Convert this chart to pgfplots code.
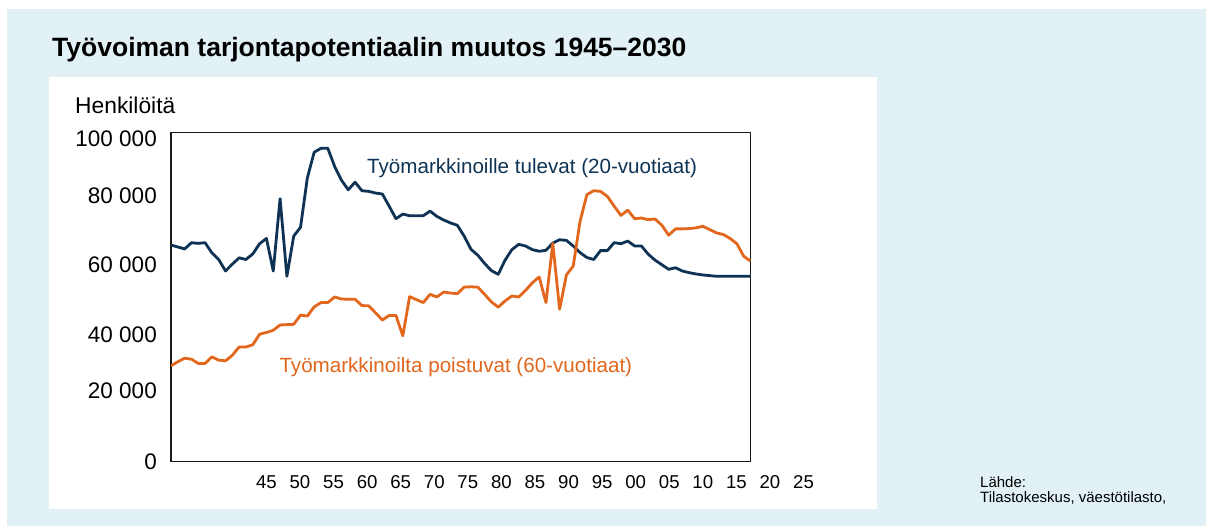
\documentclass[border=0pt]{standalone}
\usepackage{pgfplots}
\usepackage{pgfplotstable}
\pgfplotsset{compat=1.18}
\usepackage{fontspec}
\setmainfont{Liberation Sans}
\definecolor{bgblue}{HTML}{E1F1F6}
\definecolor{navy}{HTML}{0E3354}
\definecolor{orng}{HTML}{E2661C}

\pgfplotstableread{
year val
1945 65800
1946 65200
1947 64600
1948 66500
1949 66300
1950 66500
1951 63400
1952 61400
1953 57900
1954 60000
1955 61900
1956 61400
1957 63100
1958 66200
1959 67800
1960 57900
1961 79900
1962 56300
1963 68500
1964 71200
1965 86200
1966 94000
1967 95200
1968 95200
1969 89700
1970 85500
1971 82600
1972 84900
1973 82300
1974 82100
1975 81600
1976 81300
1977 77600
1978 73800
1979 75200
1980 74700
1981 74700
1982 74700
1983 76100
1984 74500
1985 73400
1986 72500
1987 71800
1988 68500
1989 64500
1990 62700
1991 60200
1992 58000
1993 56900
1994 61200
1995 64400
1996 66000
1997 65500
1998 64400
1999 63900
2000 64200
2001 66400
2002 67400
2003 67200
2004 65500
2005 63500
2006 62000
2007 61400
2008 64100
2009 64100
2010 66500
2011 66200
2012 67000
2013 65500
2014 65500
2015 63000
2016 61200
2017 59800
2018 58400
2019 58900
2020 57900
2021 57400
2022 57000
2023 56700
2024 56500
2025 56300
2026 56300
2027 56300
2028 56300
2029 56300
2030 56300
}\tulevat

\pgfplotstableread{
year val
1945 29100
1946 30300
1947 31400
1948 31100
1949 29800
1950 29800
1951 31800
1952 30800
1953 30600
1954 32300
1955 34800
1956 34800
1957 35500
1958 38700
1959 39200
1960 39900
1961 41500
1962 41600
1963 41700
1964 44500
1965 44200
1966 47000
1967 48300
1968 48300
1969 50000
1970 49400
1971 49300
1972 49300
1973 47400
1974 47300
1975 45200
1976 43000
1977 44400
1978 44400
1979 38200
1980 50100
1981 49200
1982 48300
1983 50800
1984 50000
1985 51500
1986 51200
1987 51000
1988 53000
1989 53100
1990 53000
1991 50800
1992 48500
1993 46900
1994 48800
1995 50300
1996 50000
1997 52000
1998 54300
1999 56100
2000 48300
2001 66300
2002 46300
2003 56700
2004 59400
2005 73000
2006 81100
2007 82300
2008 82100
2009 80600
2010 77600
2011 74800
2012 76400
2013 73800
2014 74000
2015 73500
2016 73700
2017 71800
2018 68800
2019 70700
2020 70700
2021 70800
2022 71000
2023 71500
2024 70500
2025 69500
2026 69000
2027 67800
2028 66200
2029 62400
2030 60900
}\poistuvat

\begin{document}
\begin{tikzpicture}
\path (0pt,0pt) rectangle (1206pt,526pt);
\fill[bgblue] (7pt,0pt) rectangle (1206pt,517pt);
\fill[white] (49pt,17pt) rectangle (877pt,449pt);
\node[anchor=base west, inner sep=0pt, font=\fontsize{26.5}{30}\selectfont\bfseries] at (52pt,469.5pt) {Työvoiman tarjontapotentiaalin muutos 1945–2030};
\node[anchor=base west, inner sep=0pt, font=\fontsize{22.8}{27}\selectfont] at (75pt,412pt) {Henkilöitä};
\node[anchor=base west, inner sep=0pt, font=\fontsize{15}{17}\selectfont] at (980pt,38.3pt) {Lähde:};
\node[anchor=base west, inner sep=0pt, font=\fontsize{15}{17}\selectfont] at (980pt,23pt) {Tilastokeskus, väestötilasto,};

\begin{axis}[
  at={(171pt,64.5pt)}, anchor=south west,
  scale only axis, width=579.5pt, height=329pt,
  xmin=1945, xmax=2030, ymin=0, ymax=100000,
  xtick=\empty,
  ytick={0,21400,38400,59700,80800,98000},
  yticklabels={0,20 000,40 000,60 000,80 000,100 000},
  scaled y ticks=false,
  major tick length=0pt,
  yticklabel style={anchor=east, inner sep=0pt, xshift=-14pt, font=\fontsize{22.5}{27}\selectfont},
  axis line style={draw=black!90, line width=1.7pt},
]
\addplot[navy, line width=2.8pt, line join=round] table[x=year,y=val]{\tulevat};
\addplot[orng, line width=2.8pt, line join=round] table[x=year,y=val]{\poistuvat};
\end{axis}

\begin{axis}[
  at={(165.7pt,64.5pt)}, anchor=south west,
  scale only axis, width=671.4pt, height=329pt,
  xmin=1930, xmax=2030, ymin=0, ymax=1,
  axis line style={draw=none},
  ytick=\empty,
  xtick={1945,1950,1955,1960,1965,1970,1975,1980,1985,1990,1995,2000,2005,2010,2015,2020,2025},
  xticklabels={45,50,55,60,65,70,75,80,85,90,95,00,05,10,15,20,25},
  major tick length=0pt,
  xticklabel style={anchor=center, inner sep=0pt, yshift=-21pt, font=\fontsize{18.6}{22}\selectfont},
]
\end{axis}

\node[anchor=base west, inner sep=0pt, text=navy, font=\fontsize{20.6}{25}\selectfont] at (367pt,352.5pt) {Työmarkkinoille tulevat (20-vuotiaat)};
\node[anchor=base west, inner sep=0pt, text=orng, font=\fontsize{20.6}{25}\selectfont] at (279.3pt,153pt) {Työmarkkinoilta poistuvat (60-vuotiaat)};
\end{tikzpicture}
\end{document}
